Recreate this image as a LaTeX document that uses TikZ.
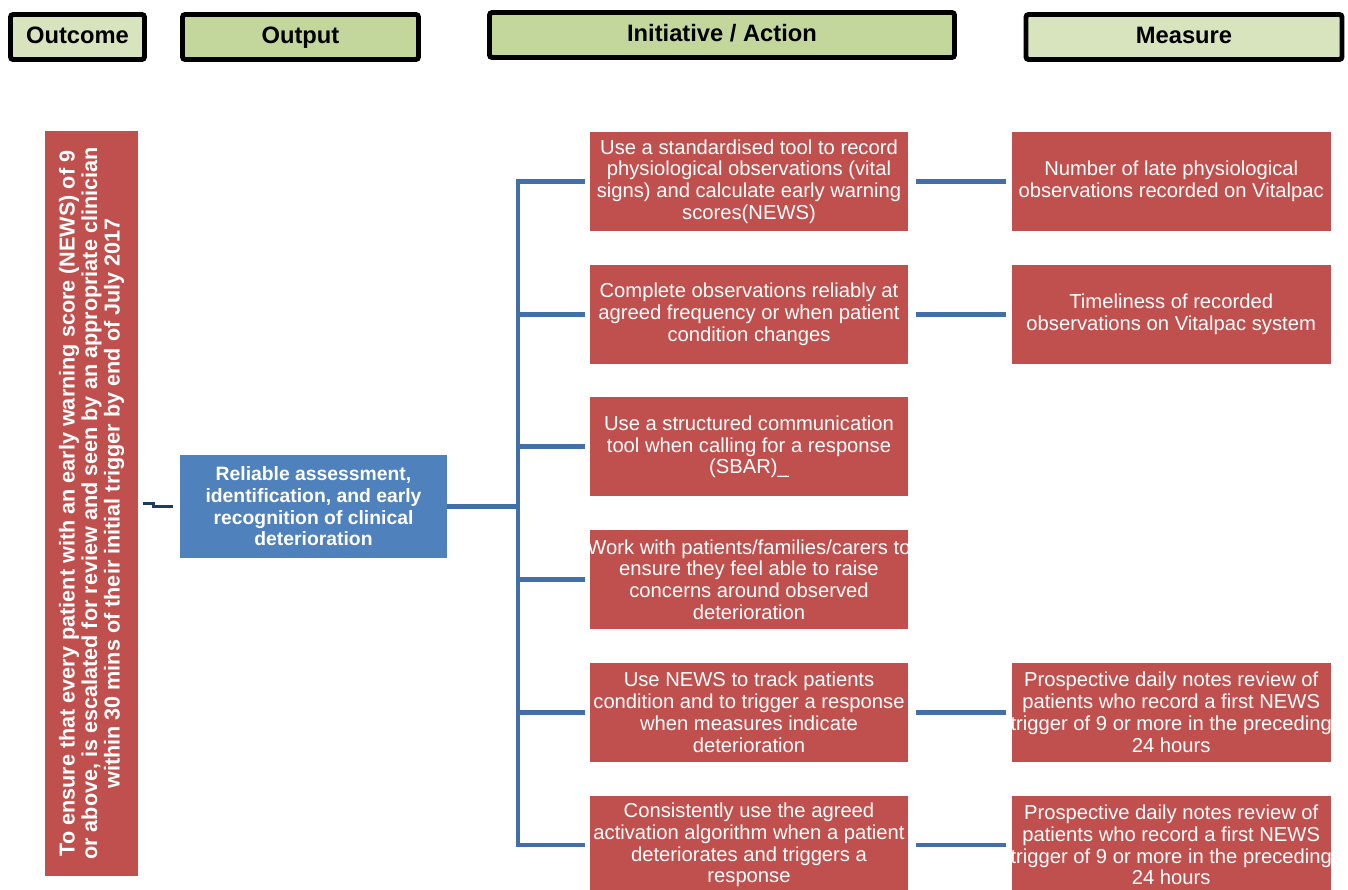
\documentclass[tikz,border=0pt]{standalone}
\usepackage{fontspec}
\setmainfont{Liberation Sans}
\usetikzlibrary{positioning}

\definecolor{hdrdark}{RGB}{195,214,155}
\definecolor{hdrlight}{RGB}{215,228,189}
\definecolor{boxred}{RGB}{192,80,77}
\definecolor{boxblue}{RGB}{79,129,189}
\definecolor{linkblue}{RGB}{66,110,170}
\definecolor{linknavy}{RGB}{31,56,100}

\begin{document}
\begin{tikzpicture}[x=0.2mm,y=-0.2mm]
	\tikzstyle{header}=[draw=black, line width=2.8pt, rounded corners=1.5pt, minimum height=9mm,
	text height=9.5pt, text depth=2.5pt, font=\fontsize{13.5}{16}\selectfont\bfseries]
	\tikzstyle{action}=[fill=boxred, text=white, minimum width=63.6mm, minimum height=19.8mm,
	inner xsep=-2mm, align=center, font=\fontsize{11.5}{12.4}\selectfont]
	\tikzstyle{measure}=[action, minimum width=63.8mm]
	\tikzstyle{link}=[draw=linkblue, line width=2.8pt]

	\useasboundingbox (0,0) rectangle (1348,890);

	% column headings
	\node[header, fill=hdrlight, minimum width=26.8mm] (hOutcome) at (77.5,37) {Outcome};
	\node[header, fill=hdrdark, minimum width=47.2mm] (hOutput) at (300.5,37) {Output};
	\node[header, fill=hdrdark, minimum width=93mm] (hAction) at (722,35) {Initiative / Action};
	\node[header, fill=hdrlight, minimum width=63.2mm] (hMeasure) at (1184,37) {Measure};

	% outcome and output
	\node[fill=boxred, text=white, rotate=90, minimum width=149mm, minimum height=18.6mm,
	inner xsep=0pt, align=center, font=\fontsize{12.3}{12.8}\selectfont\bfseries] (outcome) at (91.5,503.5)
	{To ensure that every patient with an early warning score (NEWS) of 9\\
	or above, is escalated for review and seen by an appropriate clinician\\
	within 30 mins of their initial trigger by end of July 2017};
	\node[fill=boxblue, text=white, minimum width=53.4mm, minimum height=20.6mm, align=center,
	font=\fontsize{11}{12.3}\selectfont\bfseries] (output) at (313.5,506.5)
	{Reliable assessment,\\ identification, and early\\ recognition of clinical\\ deterioration};

	% initiatives
	\node[action] (act1) at (749,181.5)
	{Use a standardised tool to record\\ physiological observations (vital\\ signs) and calculate early warning\\ scores(NEWS)};
	\node[action, below=6.6mm of act1] (act2)
	{Complete observations reliably at\\ agreed frequency or when patient\\ condition changes};
	\node[action, below=6.6mm of act2] (act3)
	{Use a structured communication\\ tool when calling for a response\\ (SBAR)\_};
	\node[action, below=6.6mm of act3] (act4)
	{Work with patients/families/carers to\\ ensure they feel able to raise\\ concerns around observed\\ deterioration};
	\node[action, below=6.6mm of act4] (act5)
	{Use NEWS to track patients\\ condition and to trigger a response\\ when measures indicate\\ deterioration};
	\node[action, below=6.6mm of act5] (act6)
	{Consistently use the agreed\\ activation algorithm when a patient\\ deteriorates and triggers a\\ response};

	% measures
	\node[measure, right=20.6mm of act1] (mea1)
	{Number of late physiological\\ observations recorded on Vitalpac};
	\node[measure, right=20.6mm of act2] (mea2)
	{Timeliness of recorded\\ observations on Vitalpac system};
	\node[measure, right=20.6mm of act5] (mea5)
	{Prospective daily notes review of\\ patients who record a first NEWS\\ trigger of 9 or more in the preceding\\ 24 hours};
	\node[measure, right=20.6mm of act6] (mea6)
	{Prospective daily notes review of\\ patients who record a first NEWS\\ trigger of 9 or more in the preceding\\ 24 hours};

	% connectors
	\coordinate (hub) at (518,506.5);
	\draw[draw=linknavy, line width=1.7pt, shorten <=1mm, shorten >=1.4mm]
		(outcome.south) -- ++(15,0) |- (output.west);
	\draw[link] (output.east) -- (hub);
	\foreach \i in {1,...,6}
		\draw[link, shorten >=1mm] (hub) |- (act\i.west);
	\foreach \i in {1,2,5,6}
		\draw[link, shorten <=1.6mm, shorten >=1mm] (act\i.east) -- (mea\i.west);
\end{tikzpicture}
\end{document}
